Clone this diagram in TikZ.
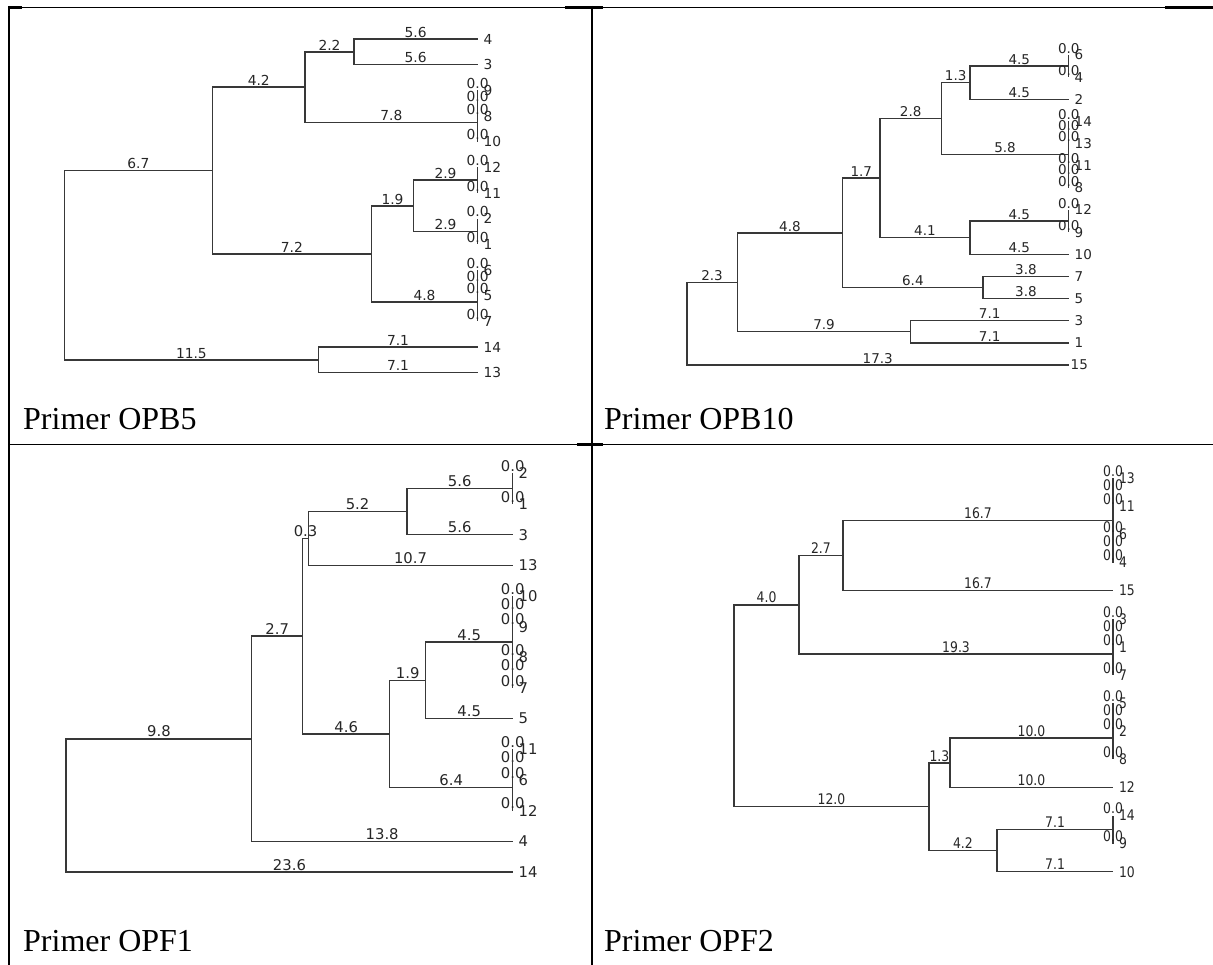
\documentclass[tikz,border=0pt]{standalone}
\usepackage{fontspec}
\setmainfont{Liberation Serif}
\newfontfamily\tfont{DejaVu Sans}
\newfontfamily\tfontc[FakeStretch=0.85]{DejaVu Sans}
\tikzset{
  br/.style={draw=black!78, line width=1.5pt},
  bl/.style={anchor=base, inner sep=0pt, outer sep=0pt, text=black!85, yshift=1.8pt},
  lf/.style={anchor=west, inner sep=0pt, outer sep=0pt, text=black!85, xshift=6pt},
  captxt/.style={anchor=base west, inner sep=0pt, font=\fontsize{32}{36}\selectfont},
  tline/.style={draw=black, line width=1.6pt},
}
\newcommand{\tbr}[3]{\draw[br] (#1) |- node[bl,pos=0.75] (#2-l) {#3} (#2);}
\newcommand{\tlf}[2]{\node[lf] (#1-t) at (#1) {#2};}
\begin{document}
\begin{tikzpicture}[x=1pt,y=-1pt]
\useasboundingbox (0,0) rectangle (1213,965);
% table grid
\draw[tline] (8,7.5) -- (1213,7.5);
\fill (8,6) rectangle (22,9);
\fill (565,6) rectangle (603,9);
\fill (1165,6) rectangle (1213,9);
\draw[tline] (8,444.5) -- (1213,444.5);
\fill (577,443) rectangle (603,446);
\draw[line width=2pt] (8.5,6) -- (8.5,965);
\draw[line width=2pt] (591.5,6) -- (591.5,965);
% captions
\node[captxt] (capA) at (23,430) {Primer OPB5};
\node[captxt] (capB) at (604,429) {Primer OPB10};
\node[captxt] (capC) at (23,951) {Primer OPF1};
\node[captxt] (capD) at (604,951) {Primer OPF2};

% ---------------- OPB5 ----------------
\begin{scope}[shift={(64.3,39)}, x=22.1pt, y=-25.67pt, every node/.append style={font=\tfont\fontsize{13.8}{15}\selectfont}]
\coordinate (a-r) at (0,8.8125);
\coordinate (a-n1) at (6.7,5.125);
\coordinate (a-n2) at (10.9,1.875);
\coordinate (a-n3) at (13.1,0.5);
\coordinate (a-L4) at (18.7,0);
\coordinate (a-L3) at (18.7,1);
\coordinate (a-n4) at (18.7,3.25);
\coordinate (a-n5) at (18.7,2.5);
\coordinate (a-L9) at (18.7,2);
\coordinate (a-L8) at (18.7,3);
\coordinate (a-L10) at (18.7,4);
\coordinate (a-n6) at (13.9,8.375);
\coordinate (a-n7) at (15.8,6.5);
\coordinate (a-n8) at (18.7,5.5);
\coordinate (a-L12) at (18.7,5);
\coordinate (a-L11) at (18.7,6);
\coordinate (a-n9) at (18.7,7.5);
\coordinate (a-L2) at (18.7,7);
\coordinate (a-L1) at (18.7,8);
\coordinate (a-n10) at (18.7,10.25);
\coordinate (a-n11) at (18.7,9.5);
\coordinate (a-L6) at (18.7,9);
\coordinate (a-L5) at (18.7,10);
\coordinate (a-L7) at (18.7,11);
\coordinate (a-n12) at (11.5,12.5);
\coordinate (a-L14) at (18.7,12);
\coordinate (a-L13) at (18.7,13);
\tbr{a-r}{a-n1}{6.7}
\tbr{a-n1}{a-n2}{4.2}
\tbr{a-n2}{a-n3}{2.2}
\tbr{a-n3}{a-L4}{5.6}
\tbr{a-n3}{a-L3}{5.6}
\tbr{a-n2}{a-n4}{7.8}
\tbr{a-n4}{a-n5}{0.0}
\tbr{a-n5}{a-L9}{0.0}
\tbr{a-n5}{a-L8}{0.0}
\tbr{a-n4}{a-L10}{0.0}
\tbr{a-n1}{a-n6}{7.2}
\tbr{a-n6}{a-n7}{1.9}
\tbr{a-n7}{a-n8}{2.9}
\tbr{a-n8}{a-L12}{0.0}
\tbr{a-n8}{a-L11}{0.0}
\tbr{a-n7}{a-n9}{2.9}
\tbr{a-n9}{a-L2}{0.0}
\tbr{a-n9}{a-L1}{0.0}
\tbr{a-n6}{a-n10}{4.8}
\tbr{a-n10}{a-n11}{0.0}
\tbr{a-n11}{a-L6}{0.0}
\tbr{a-n11}{a-L5}{0.0}
\tbr{a-n10}{a-L7}{0.0}
\tbr{a-r}{a-n12}{11.5}
\tbr{a-n12}{a-L14}{7.1}
\tbr{a-n12}{a-L13}{7.1}
\tlf{a-L4}{4}\tlf{a-L3}{3}\tlf{a-L9}{9}\tlf{a-L8}{8}\tlf{a-L10}{10}
\tlf{a-L12}{12}\tlf{a-L11}{11}\tlf{a-L2}{2}\tlf{a-L1}{1}
\tlf{a-L6}{6}\tlf{a-L5}{5}\tlf{a-L7}{7}\tlf{a-L14}{14}\tlf{a-L13}{13}
\end{scope}

% ---------------- OPB10 ----------------
\begin{scope}[shift={(686.8,55)}, x=21.95pt, y=-22.14pt, every node/.append style={font=\tfont\fontsize{13.5}{15}\selectfont}]
\coordinate (b-r) at (0,12.1328);
\coordinate (b-n1) at (2.3,10.2656);
\coordinate (b-n2) at (7.1,8.03125);
\coordinate (b-n3) at (8.8,5.5625);
\coordinate (b-n4) at (11.6,2.875);
\coordinate (b-n5) at (12.9,1.25);
\coordinate (b-n6) at (17.4,0.5);
\coordinate (b-L6) at (17.4,0);
\coordinate (b-L4) at (17.4,1);
\coordinate (b-L2) at (17.4,2);
\coordinate (b-n7) at (17.4,4.5);
\coordinate (b-n8) at (17.4,3.5);
\coordinate (b-L14) at (17.4,3);
\coordinate (b-L13) at (17.4,4);
\coordinate (b-n9) at (17.4,5.5);
\coordinate (b-L11) at (17.4,5);
\coordinate (b-L8) at (17.4,6);
\coordinate (b-n10) at (12.9,8.25);
\coordinate (b-n11) at (17.4,7.5);
\coordinate (b-L12) at (17.4,7);
\coordinate (b-L9) at (17.4,8);
\coordinate (b-L10) at (17.4,9);
\coordinate (b-n12) at (13.5,10.5);
\coordinate (b-L7) at (17.4,10);
\coordinate (b-L5) at (17.4,11);
\coordinate (b-n13) at (10.2,12.5);
\coordinate (b-L3) at (17.4,12);
\coordinate (b-L1) at (17.4,13);
\coordinate (b-L15) at (17.4,14);
\tbr{b-r}{b-n1}{2.3}
\tbr{b-n1}{b-n2}{4.8}
\tbr{b-n2}{b-n3}{1.7}
\tbr{b-n3}{b-n4}{2.8}
\tbr{b-n4}{b-n5}{1.3}
\tbr{b-n5}{b-n6}{4.5}
\tbr{b-n6}{b-L6}{0.0}
\tbr{b-n6}{b-L4}{0.0}
\tbr{b-n5}{b-L2}{4.5}
\tbr{b-n4}{b-n7}{5.8}
\tbr{b-n7}{b-n8}{0.0}
\tbr{b-n8}{b-L14}{0.0}
\tbr{b-n8}{b-L13}{0.0}
\tbr{b-n7}{b-n9}{0.0}
\tbr{b-n9}{b-L11}{0.0}
\tbr{b-n9}{b-L8}{0.0}
\tbr{b-n3}{b-n10}{4.1}
\tbr{b-n10}{b-n11}{4.5}
\tbr{b-n11}{b-L12}{0.0}
\tbr{b-n11}{b-L9}{0.0}
\tbr{b-n10}{b-L10}{4.5}
\tbr{b-n2}{b-n12}{6.4}
\tbr{b-n12}{b-L7}{3.8}
\tbr{b-n12}{b-L5}{3.8}
\tbr{b-n1}{b-n13}{7.9}
\tbr{b-n13}{b-L3}{7.1}
\tbr{b-n13}{b-L1}{7.1}
\tbr{b-r}{b-L15}{17.3}
\tlf{b-L6}{6}\tlf{b-L4}{4}\tlf{b-L2}{2}\tlf{b-L14}{14}\tlf{b-L13}{13}
\tlf{b-L11}{11}\tlf{b-L8}{8}\tlf{b-L12}{12}\tlf{b-L9}{9}\tlf{b-L10}{10}
\tlf{b-L7}{7}\tlf{b-L5}{5}\tlf{b-L3}{3}\tlf{b-L1}{1}
\node[lf, xshift=-4pt] (b-L15-t) at (b-L15) {15};
\end{scope}

% ---------------- OPF1 ----------------
\begin{scope}[shift={(66.2,473.3)}, x=18.92pt, y=-30.67pt, every node/.append style={font=\tfont\fontsize{14.8}{16}\selectfont}]
\coordinate (c-r) at (0,10.828);
\coordinate (c-n1) at (9.8,8.65625);
\coordinate (c-n2) at (12.5,5.3125);
\coordinate (c-n3) at (12.8,2.125);
\coordinate (c-n4) at (18.0,1.25);
\coordinate (c-n5) at (23.6,0.5);
\coordinate (c-L2) at (23.6,0);
\coordinate (c-L1) at (23.6,1);
\coordinate (c-L3) at (23.6,2);
\coordinate (c-L13) at (23.6,3);
\coordinate (c-n6) at (17.1,8.5);
\coordinate (c-n7) at (19.0,6.75);
\coordinate (c-n8) at (23.6,5.5);
\coordinate (c-n9) at (23.6,4.5);
\coordinate (c-L10) at (23.6,4);
\coordinate (c-L9) at (23.6,5);
\coordinate (c-n10) at (23.6,6.5);
\coordinate (c-L8) at (23.6,6);
\coordinate (c-L7) at (23.6,7);
\coordinate (c-L5) at (23.6,8);
\coordinate (c-n11) at (23.6,10.25);
\coordinate (c-n12) at (23.6,9.5);
\coordinate (c-L11) at (23.6,9);
\coordinate (c-L6) at (23.6,10);
\coordinate (c-L12) at (23.6,11);
\coordinate (c-L4) at (23.6,12);
\coordinate (c-L14) at (23.6,13);
\tbr{c-r}{c-n1}{9.8}
\tbr{c-n1}{c-n2}{2.7}
\tbr{c-n2}{c-n3}{0.3}
\tbr{c-n3}{c-n4}{5.2}
\tbr{c-n4}{c-n5}{5.6}
\tbr{c-n5}{c-L2}{0.0}
\tbr{c-n5}{c-L1}{0.0}
\tbr{c-n4}{c-L3}{5.6}
\tbr{c-n3}{c-L13}{10.7}
\tbr{c-n2}{c-n6}{4.6}
\tbr{c-n6}{c-n7}{1.9}
\tbr{c-n7}{c-n8}{4.5}
\tbr{c-n8}{c-n9}{0.0}
\tbr{c-n9}{c-L10}{0.0}
\tbr{c-n9}{c-L9}{0.0}
\tbr{c-n8}{c-n10}{0.0}
\tbr{c-n10}{c-L8}{0.0}
\tbr{c-n10}{c-L7}{0.0}
\tbr{c-n7}{c-L5}{4.5}
\tbr{c-n6}{c-n11}{6.4}
\tbr{c-n11}{c-n12}{0.0}
\tbr{c-n12}{c-L11}{0.0}
\tbr{c-n12}{c-L6}{0.0}
\tbr{c-n11}{c-L12}{0.0}
\tbr{c-n1}{c-L4}{13.8}
\tbr{c-r}{c-L14}{23.6}
\tlf{c-L2}{2}\tlf{c-L1}{1}\tlf{c-L3}{3}\tlf{c-L13}{13}\tlf{c-L10}{10}
\tlf{c-L9}{9}\tlf{c-L8}{8}\tlf{c-L7}{7}\tlf{c-L5}{5}\tlf{c-L11}{11}
\tlf{c-L6}{6}\tlf{c-L12}{12}\tlf{c-L4}{4}\tlf{c-L14}{14}
\end{scope}

% ---------------- OPF2 ----------------
\begin{scope}[shift={(734.1,478.3)}, x=16.23pt, y=-28.1pt, every node/.append style={font=\tfontc\fontsize{14.6}{16}\selectfont}]
\coordinate (d-r) at (0,8.09375);
\coordinate (d-n1) at (4.0,4.5);
\coordinate (d-n2) at (6.7,2.75);
\coordinate (d-n3) at (23.35,1.5);
\coordinate (d-n4) at (23.35,0.5);
\coordinate (d-L13) at (23.35,0);
\coordinate (d-L11) at (23.35,1);
\coordinate (d-n5) at (23.35,2.5);
\coordinate (d-L6) at (23.35,2);
\coordinate (d-L4) at (23.35,3);
\coordinate (d-L15) at (23.35,4);
\coordinate (d-n6) at (23.35,6.25);
\coordinate (d-n7) at (23.35,5.5);
\coordinate (d-L3) at (23.35,5);
\coordinate (d-L1) at (23.35,6);
\coordinate (d-L7) at (23.35,7);
\coordinate (d-n8) at (12.0,11.6875);
\coordinate (d-n9) at (13.3,10.125);
\coordinate (d-n10) at (23.35,9.25);
\coordinate (d-n11) at (23.35,8.5);
\coordinate (d-L5) at (23.35,8);
\coordinate (d-L2) at (23.35,9);
\coordinate (d-L8) at (23.35,10);
\coordinate (d-L12) at (23.35,11);
\coordinate (d-n12) at (16.2,13.25);
\coordinate (d-n13) at (23.35,12.5);
\coordinate (d-L14) at (23.35,12);
\coordinate (d-L9) at (23.35,13);
\coordinate (d-L10) at (23.35,14);
\tbr{d-r}{d-n1}{4.0}
\tbr{d-n1}{d-n2}{2.7}
\tbr{d-n2}{d-n3}{16.7}
\tbr{d-n3}{d-n4}{0.0}
\tbr{d-n4}{d-L13}{0.0}
\tbr{d-n4}{d-L11}{0.0}
\tbr{d-n3}{d-n5}{0.0}
\tbr{d-n5}{d-L6}{0.0}
\tbr{d-n5}{d-L4}{0.0}
\tbr{d-n2}{d-L15}{16.7}
\tbr{d-n1}{d-n6}{19.3}
\tbr{d-n6}{d-n7}{0.0}
\tbr{d-n7}{d-L3}{0.0}
\tbr{d-n7}{d-L1}{0.0}
\tbr{d-n6}{d-L7}{0.0}
\tbr{d-r}{d-n8}{12.0}
\tbr{d-n8}{d-n9}{1.3}
\tbr{d-n9}{d-n10}{10.0}
\tbr{d-n10}{d-n11}{0.0}
\tbr{d-n11}{d-L5}{0.0}
\tbr{d-n11}{d-L2}{0.0}
\tbr{d-n10}{d-L8}{0.0}
\tbr{d-n9}{d-L12}{10.0}
\tbr{d-n8}{d-n12}{4.2}
\tbr{d-n12}{d-n13}{7.1}
\tbr{d-n13}{d-L14}{0.0}
\tbr{d-n13}{d-L9}{0.0}
\tbr{d-n12}{d-L10}{7.1}
\tlf{d-L13}{13}\tlf{d-L11}{11}\tlf{d-L6}{6}\tlf{d-L4}{4}\tlf{d-L15}{15}
\tlf{d-L3}{3}\tlf{d-L1}{1}\tlf{d-L7}{7}\tlf{d-L5}{5}\tlf{d-L2}{2}
\tlf{d-L8}{8}\tlf{d-L12}{12}\tlf{d-L14}{14}\tlf{d-L9}{9}\tlf{d-L10}{10}
\end{scope}
\end{tikzpicture}
\end{document}
